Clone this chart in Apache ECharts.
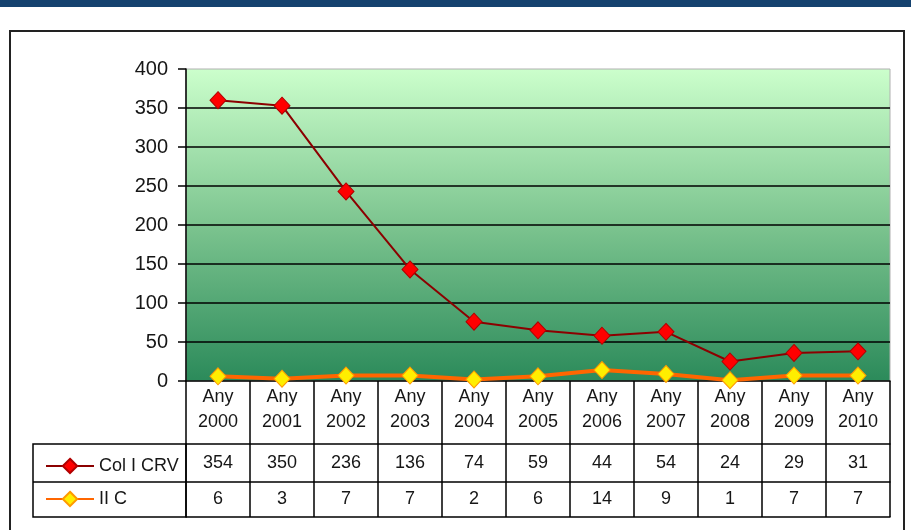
<!DOCTYPE html>
<html>
<head>
<meta charset="utf-8">
<title>Col I CRV / II C</title>
<script src="https://cdn.jsdelivr.net/npm/echarts@6/dist/echarts.min.js"></script>
<style>
  html, body { margin: 0; padding: 0; background: #fff; }
  #chart { width: 911px; height: 530px; }
</style>
</head>
<body>
<div id="chart"></div>
<script>
// data
const years = ['2000', '2001', '2002', '2003', '2004', '2005', '2006', '2007', '2008', '2009', '2010'];
const colCRV = [354, 350, 236, 136, 74, 59, 44, 54, 24, 29, 31];
const iiC = [6, 3, 7, 7, 2, 6, 14, 9, 1, 7, 7];
const yTicks = { min: 0, max: 400, interval: 50 };

const font = 'Liberation Sans, Arial, sans-serif';
const txt = '#161616';

let chart = echarts.init(document.getElementById('chart'));

// one extra x axis per table row, labels taken from the arrays above
function tableAxis(offset, values, margin) {
  return {
    type: 'category',
    data: years,
    position: 'bottom',
    offset: offset,
    axisLine: { show: true, lineStyle: { color: '#000', width: 1.5 } },
    axisTick: { show: false },
    axisLabel: {
      show: !!values,
      interval: 0,
      margin: margin,
      fontFamily: font,
      fontSize: 18,
      color: txt,
      formatter: function (v, i) { return values ? String(values[i]) : ''; }
    }
  };
}

let option = {
  animation: false,
  backgroundColor: '#fff',
  grid: {
    left: 186, top: 69, right: 21, bottom: 149,
    show: true,
    borderColor: '#b0b0b0',
    borderWidth: 1,
    backgroundColor: new echarts.graphic.LinearGradient(0, 0, 0, 1, [
      { offset: 0, color: '#ccffcc' },
      { offset: 0.5, color: '#7cc48f' },
      { offset: 1, color: '#2b8a5a' }
    ])
  },
  legend: {
    data: ['Col I CRV', 'II C'],
    orient: 'vertical',
    left: 40,
    top: 452,
    itemWidth: 48,
    itemHeight: 18,
    itemGap: 15,
    textStyle: { fontFamily: font, fontSize: 18, color: txt }
  },
  xAxis: [
    {
      type: 'category',
      data: years,
      position: 'bottom',
      axisLine: { show: true, lineStyle: { color: '#000', width: 1.5 } },
      axisTick: { show: true, interval: 0, length: 136, lineStyle: { color: '#000', width: 1.5 } },
      axisLabel: {
        interval: 0,
        margin: 4,
        fontFamily: font,
        fontSize: 18,
        lineHeight: 25,
        color: txt,
        formatter: function (v) { return 'Any\n' + v; }
      }
    },
    tableAxis(63, colCRV, 10),
    tableAxis(101, iiC, 8),
    tableAxis(136, null, 0)
  ],
  yAxis: {
    type: 'value',
    min: yTicks.min,
    max: yTicks.max,
    interval: yTicks.interval,
    axisLine: { show: true, lineStyle: { color: '#000', width: 1.5 } },
    axisTick: { show: true, length: 8, lineStyle: { color: '#000', width: 1.5 } },
    axisLabel: { margin: 18, fontFamily: font, fontSize: 20, color: txt },
    splitLine: { show: true, showMinLine: false, showMaxLine: false, lineStyle: { color: '#000', width: 1.5 } }
  },
  series: [
    {
      name: 'II C',
      type: 'line',
      stack: 'total',
      data: iiC,
      symbol: 'diamond',
      symbolSize: [16, 17],
      lineStyle: { color: '#ff6600', width: 4 },
      itemStyle: { color: '#ffee00', borderColor: '#ff9900', borderWidth: 1 }
    },
    {
      name: 'Col I CRV',
      type: 'line',
      stack: 'total',
      data: colCRV,
      symbol: 'diamond',
      symbolSize: [16, 17],
      lineStyle: { color: '#8b0000', width: 2 },
      itemStyle: { color: '#ff0000', borderColor: '#b00000', borderWidth: 1 }
    }
  ],
  graphic: [
    // top banner and outer frame
    { type: 'rect', shape: { x: 0, y: 0, width: 911, height: 7 }, style: { fill: '#15426f' } },
    { type: 'rect', shape: { x: 10, y: 31, width: 894, height: 510 }, style: { fill: 'none', stroke: '#222', lineWidth: 2 } },
    // legend column of the data table
    { type: 'rect', shape: { x: 33, y: 444, width: 153, height: 73 }, style: { fill: 'none', stroke: '#000', lineWidth: 1.5 } },
    { type: 'line', shape: { x1: 33, y1: 482, x2: 186, y2: 482 }, style: { stroke: '#000', lineWidth: 1.5 } }
  ]
};

chart.setOption(option, true);
</script>
</body>
</html>
